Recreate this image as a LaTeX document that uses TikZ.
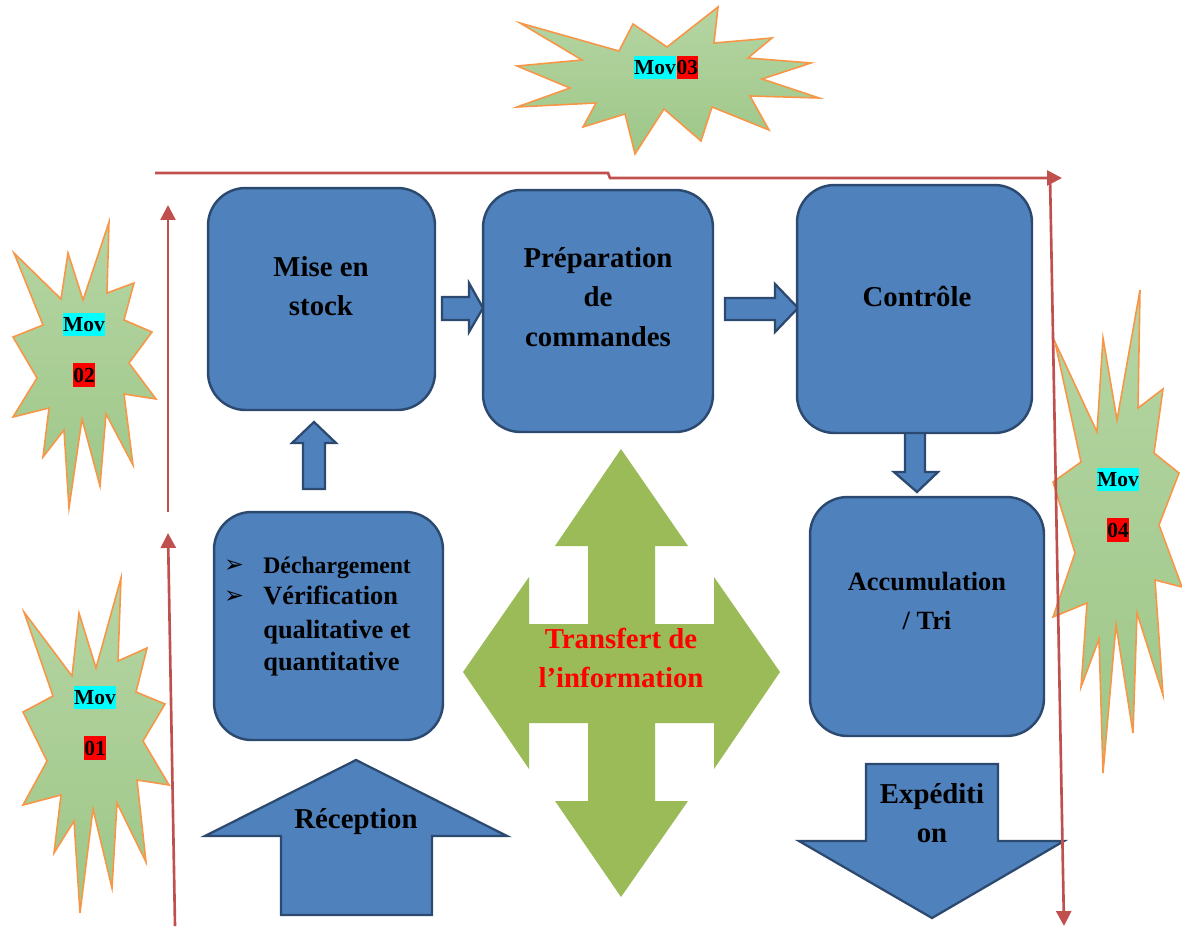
\documentclass[tikz,border=0pt]{standalone}
\usepackage{fontspec}
\setmainfont{Liberation Serif}
\newfontfamily\bulletfont{DejaVu Sans}
\usepackage{xcolor}
\usetikzlibrary{arrows.meta,positioning,calc}

\definecolor{boxblue}{HTML}{4F81BD}
\definecolor{boxline}{HTML}{2C4A70}
\definecolor{flowred}{HTML}{C0504D}
\definecolor{infogreen}{HTML}{9BBB59}
\definecolor{startop}{HTML}{B5D5A3}
\definecolor{starbot}{HTML}{9EC788}
\definecolor{starline}{HTML}{F79646}
\definecolor{hlcyan}{HTML}{00FFFF}
\definecolor{hlred}{HTML}{FF0000}

\begin{document}
\begin{tikzpicture}[x=0.02cm,y=-0.02cm,
  bluebox/.style={draw=boxline,line width=1.4pt,fill=boxblue,rounded corners=0.75cm,inner sep=0pt},
  blockarrow/.style={draw=boxline,line width=1.3pt,fill=boxblue,line join=miter},
  lbl/.style={font=\bfseries\fontsize{16.4}{22.6}\selectfont,align=center,inner sep=0pt},
  item/.style={font=\bfseries\fontsize{15}{18}\selectfont,anchor=base west,inner sep=0pt},
  bullet/.style={font=\bulletfont\fontsize{13.5}{15}\selectfont,inner sep=0pt},
  flow/.style={draw=flowred,line width=1.5pt,-{Triangle[length=8.5pt,width=8.5pt]}},
  star/.style={top color=startop,bottom color=starbot,draw=starline,line width=0.9pt,line join=miter},
  hlname/.style={fill=hlcyan,inner sep=0pt,text height=10.9pt,text depth=2.7pt,font=\bfseries\fontsize{12.2}{14}\selectfont},
  hlnum/.style={hlname,fill=hlred}]
  \useasboundingbox (0,0) rectangle (1182,926);

  % bursts
  \path[star] (520,23) -- (619,51) -- (633,24) -- (667,47) -- (718,7) -- (714,43) -- (772,38) -- (748,58)
    -- (811,63) -- (762,79) -- (819,98) -- (750,96) -- (769,130) -- (712,107) -- (701,141) -- (664,109)
    -- (635,154) -- (625,114) -- (583,127) -- (596,103) -- (517,107) -- (570,88) -- (517,66) -- (582,60) -- cycle;
  \path[star] (14,253) -- (61,299) -- (68,253) -- (83,300) -- (109,222) -- (107,293) -- (134,283) -- (124,320)
    -- (152,332) -- (129,363) -- (156,399) -- (124,394) -- (133,465) -- (106,414) -- (100,486) -- (82,419)
    -- (69,508) -- (64,430) -- (43,457) -- (49,408) -- (13,417) -- (37,378) -- (13,337) -- (43,325) -- cycle;
  \path[star] (24,612) -- (72,676) -- (79,613) -- (96,668) -- (121,578) -- (118,661) -- (147,648) -- (136,692)
    -- (165,704) -- (143,741) -- (169,785) -- (137,780) -- (146,862) -- (117,803) -- (112,888) -- (93,809)
    -- (80,913) -- (74,821) -- (54,853) -- (61,795) -- (23,805) -- (47,761) -- (23,712) -- (53,696) -- cycle;
  \path[star] (1055,342) -- (1097,432) -- (1103,338) -- (1117,420) -- (1140,290) -- (1138,408) -- (1163,389)
    -- (1154,453) -- (1179,473) -- (1159,525) -- (1182,587) -- (1155,580) -- (1163,695) -- (1137,613)
    -- (1133,733) -- (1116,625) -- (1103,773) -- (1099,639) -- (1081,687) -- (1087,603) -- (1053,617)
    -- (1075,553) -- (1053,482) -- (1081,462) -- cycle;

  \node[hlname] (mov3a) at (655,67.5) {Mov};
  \node[hlnum,right=0pt of mov3a] (mov3b) {03};
  \node[hlname] (mov2a) at (84,324.5) {Mov};
  \node[hlnum,below=0.52cm of mov2a] (mov2b) {02};
  \node[hlname] (mov1a) at (95,697.5) {Mov};
  \node[hlnum,below=0.52cm of mov1a] (mov1b) {01};
  \node[hlname] (mov4a) at (1118,479.5) {Mov};
  \node[hlnum,below=0.52cm of mov4a] (mov4b) {04};

  % block arrows
  \path[blockarrow] (442,297) -- (469,297) -- (469,283) -- (483,308) -- (469,332) -- (469,320) -- (442,320) -- cycle;
  \path[blockarrow] (725,298) -- (775,298) -- (775,284) -- (798,308) -- (775,332) -- (775,320) -- (725,320) -- cycle;
  \path[blockarrow] (314,422) -- (336,443) -- (325,443) -- (325,489) -- (303,489) -- (303,443) -- (292,443) -- cycle;
  \path[blockarrow] (905,430) -- (925,430) -- (925,472) -- (938,472) -- (917,492) -- (894,472) -- (905,472) -- cycle;
  \path[blockarrow] (356,760) -- (507,836) -- (432,836) -- (432,915) -- (281,915) -- (281,836) -- (205,836) -- cycle;
  \path[blockarrow] (866,764) -- (998,764) -- (998,841) -- (1064,841) -- (932,918) -- (799,841) -- (866,841) -- cycle;

  % boxes
  \node[bluebox,minimum width=4.54cm,minimum height=4.44cm] (stock) at (321.5,299) {};
  \node[bluebox,minimum width=4.6cm,minimum height=4.84cm] (prep) at (598,311) {};
  \node[bluebox,minimum width=4.7cm,minimum height=4.96cm] (ctrl) at (914.5,309) {};
  \node[bluebox,minimum width=4.58cm,minimum height=4.56cm] (unload) at (328.5,626) {};
  \node[bluebox,minimum width=4.68cm,minimum height=4.78cm] (sort) at (927,616.5) {};

  \node[lbl] (stockT) at (321,286) {Mise en\\stock};
  \node[lbl] (prepT) at (598,297) {Préparation\\de\\commandes};
  \node[lbl] (ctrlT) at (917,296) {Contrôle};
  \node[lbl,font=\bfseries\fontsize{15}{22}\selectfont] (sortT) at (927,601) {Accumulation\\/ Tri};
  \node[lbl] (recT) at (356,822) {Réception};
  \node[lbl] (expT) at (932,813) {Expéditi\\on};

  \node[item,font=\bfseries\fontsize{13.5}{16}\selectfont] (it1) at (263,573) {Déchargement};
  \foreach \t/\y [count=\i from 2] in {Vérification/604,qualitative et/638,quantitative/670}
    \node[item] (it\i) at (263,\y) {\t};
  \node[bullet] (b1) at (234,566) {➢};
  \node[bullet] (b2) at (234,597) {➢};

  % information
  \fill[infogreen] (621,449) -- (688,546) -- (655,546) -- (655,624) -- (714,624) -- (714,577) -- (780,672)
    -- (714,769) -- (714,723) -- (655,723) -- (655,801) -- (688,801) -- (621,897) -- (555,801) -- (588,801)
    -- (588,723) -- (529,723) -- (529,769) -- (463,672) -- (529,577) -- (529,624) -- (588,624) -- (588,546)
    -- (555,546) -- cycle;
  \node[lbl,text=hlred] (infoT) at (621,658) {Transfert de\\l’information};

  % flows
  \coordinate (f1s) at (175,926);
  \coordinate (f1e) at (168,533);
  \coordinate (f2s) at (168,512);
  \coordinate (f2e) at (168,205);
  \coordinate (f3s) at (155,173);
  \coordinate (f3e) at (1062,178);
  \coordinate (f4s) at (1050,176);
  \coordinate (f4e) at (1064,926);
  \draw[flow] (f1s) -- (f1e);
  \draw[flow] (f2s) -- (f2e);
  \draw[flow] (f3s) -- (608,173) -- (610,178) -- (f3e);
  \draw[flow] (f4s) -- (f4e);
\end{tikzpicture}
\end{document}
